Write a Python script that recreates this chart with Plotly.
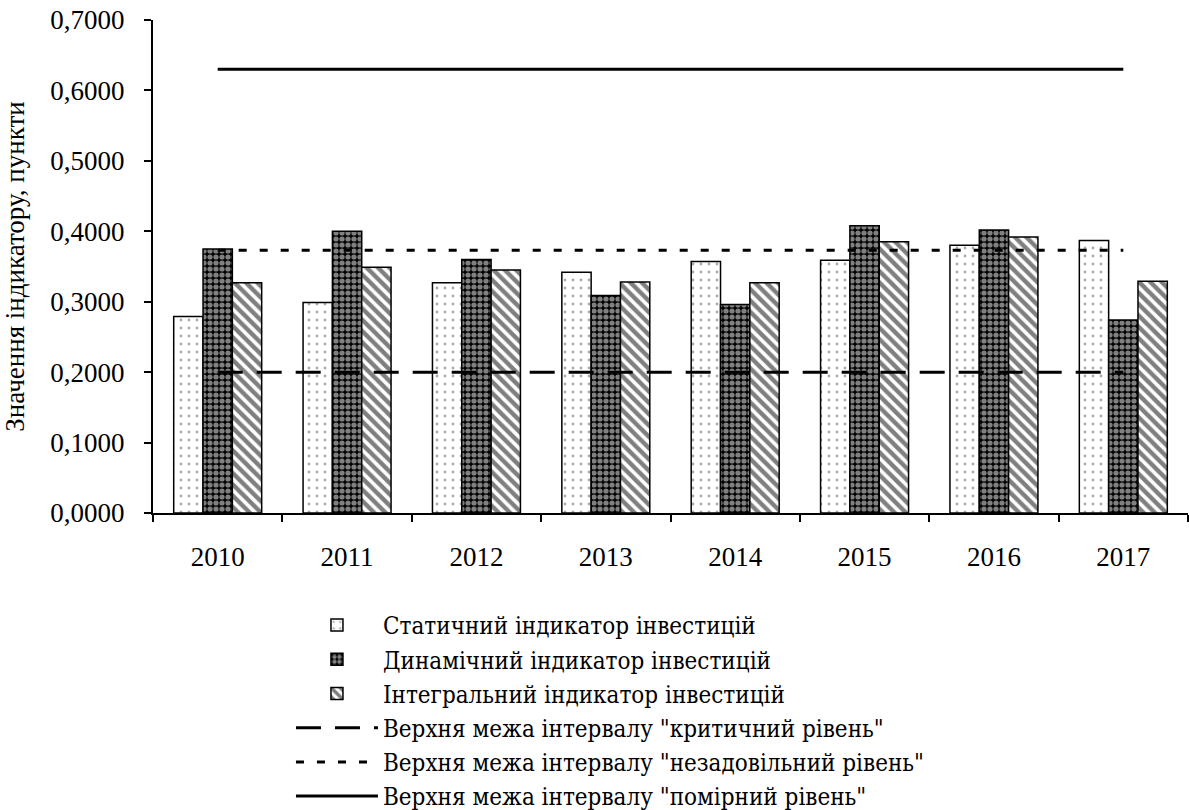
import plotly.graph_objects as go

years = ["2010", "2011", "2012", "2013", "2014", "2015", "2016", "2017"]
static_vals = [0.279, 0.299, 0.327, 0.342, 0.357, 0.359, 0.380, 0.387]
dynamic_vals = [0.375, 0.400, 0.360, 0.309, 0.296, 0.408, 0.402, 0.274]
integral_vals = [0.327, 0.349, 0.345, 0.328, 0.327, 0.385, 0.392, 0.329]
critical_level = [0.20] * len(years)
unsatisfactory_level = [0.373] * len(years)
moderate_level = [0.63] * len(years)

names = [
    "Статичний індикатор інвестицій",
    "Динамічний індикатор інвестицій",
    "Інтегральний індикатор інвестицій",
    'Верхня межа інтервалу "критичний рівень"',
    'Верхня межа інтервалу "незадовільний рівень"',
    'Верхня межа інтервалу "помірний рівень"',
]

FONT = "Liberation Serif, Times New Roman, serif"
LFONT = "DejaVu Serif Condensed, Liberation Serif, serif"
FS = 27
LFS = 24

fig = go.Figure()
fig.add_trace(go.Bar(
    x=years, y=static_vals, name=names[0],
    marker=dict(color="white", line=dict(color="black", width=1.5),
                pattern=dict(shape=".", fgcolor="#555", bgcolor="white", size=8, solidity=0.1)),
))
fig.add_trace(go.Bar(
    x=years, y=dynamic_vals, name=names[1],
    marker=dict(color="black", line=dict(color="black", width=1.5),
                pattern=dict(shape=".", fgcolor="white", bgcolor="black", size=6, solidity=0.6)),
))
fig.add_trace(go.Bar(
    x=years, y=integral_vals, name=names[2],
    marker=dict(color="white", line=dict(color="black", width=1.5),
                pattern=dict(shape="\\", fgcolor="black", bgcolor="white", size=8, solidity=0.55)),
))
fig.add_trace(go.Scatter(
    x=years, y=critical_level, name=names[3], mode="lines",
    line=dict(color="black", width=3, dash="25px,14px"),
))
fig.add_trace(go.Scatter(
    x=years, y=unsatisfactory_level, name=names[4], mode="lines",
    line=dict(color="black", width=3, dash="8px,13px"),
))
fig.add_trace(go.Scatter(
    x=years, y=moderate_level, name=names[5], mode="lines",
    line=dict(color="black", width=3),
))

fig.update_layout(
    width=1189, height=810,
    margin=dict(l=153, r=1, t=20, b=297, autoexpand=False),
    paper_bgcolor="white", plot_bgcolor="white",
    font=dict(family=FONT, size=FS, color="black"),
    barmode="group", bargap=0.32, bargroupgap=0,
    showlegend=True,
    legend=dict(
        x=0.1333, y=-0.1826, xanchor="left", yanchor="top",
        font=dict(family=LFONT, size=LFS, color="black"),
        tracegroupgap=0, itemwidth=82,
        bgcolor="rgba(0,0,0,0)",
    ),
    xaxis=dict(
        type="category", showline=True, linecolor="black", linewidth=2,
        ticks="outside", tickson="boundaries", ticklen=7, tickwidth=1.5, tickcolor="black",
        showgrid=False, ticklabelstandoff=19,
        tickfont=dict(family=FONT, size=FS, color="black"),
    ),
    yaxis=dict(
        range=[0, 0.7], dtick=0.1, tickformat=".4f",
        showline=True, linecolor="black", linewidth=2,
        ticks="outside", ticklen=7, tickwidth=1.5, tickcolor="black",
        showgrid=False, zeroline=False, ticklabelstandoff=14,
        ticklabeloverflow="allow",
        tickfont=dict(family=FONT, size=FS, color="black"),
        title=dict(text="Значення індикатору, пункти", font=dict(family=FONT, size=FS, color="black"), standoff=18),
    ),
    separators=", ",
)

fig.write_html(
    "out.html",
    config={"displayModeBar": False},
    post_script="document.body.style.margin='0';document.body.style.overflow='hidden';",
)
